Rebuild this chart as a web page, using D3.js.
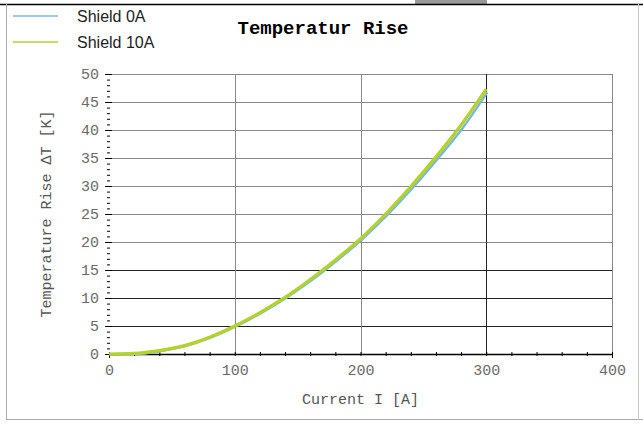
<!DOCTYPE html>
<meta charset="utf-8">
<style>
body { margin: 0; background: #fff; }
svg { display: block; }
.tick text { font-family: "Liberation Mono", "DejaVu Sans Mono", monospace; font-size: 15px; fill: #6a6a6a; }
.axis path, .axis line { stroke: #000; }
.grid line { stroke: #888; stroke-width: 1px; }
.grid .dark line { stroke: #222; }
.label { font-family: "Liberation Mono", monospace; font-size: 15px; fill: #555; }
.legend text { font-family: "Liberation Sans", Arial, sans-serif; font-size: 16px; fill: #222; }
</style>
<body>
<script src="https://cdn.jsdelivr.net/npm/d3@7"></script>
<script>

var width = 643,
    height = 426;

var current = [0, 20, 40, 60, 80, 100, 120, 140, 160, 180, 200, 220, 240, 260, 280, 300];
var shield0 = [0, 0.1, 0.6, 1.5, 3.0, 5.0, 7.4, 10.1, 13.2, 16.7, 20.5, 24.8, 29.6, 34.8, 40.3, 46.8];
var shield10 = [0, 0.1, 0.6, 1.5, 3.0, 5.0, 7.4, 10.1, 13.3, 16.8, 20.6, 25.0, 29.9, 35.2, 40.9, 47.3];
var seriesNames = ["Shield 0A", "Shield 10A"];
var seriesColors = ["#7ab8de", "#b4d22a"];
var xTicks = [0, 100, 200, 300, 400];
var yTicks = [0, 5, 10, 15, 20, 25, 30, 35, 40, 45, 50];

var margin = {left: 109, right: 31, top: 74, bottom: 72};

var x = d3.scaleLinear().domain([0, 400]).range([margin.left, width - margin.right]);
var y = d3.scaleLinear().domain([0, 50]).range([height - margin.bottom, margin.top]);

var svg = d3.select("body").append("svg")
    .attr("width", width)
    .attr("height", height);

// outer frame
svg.append("rect").attr("x", 415).attr("y", 0).attr("width", 72).attr("height", 4).attr("fill", "#999");
svg.append("line").attr("x1", 0).attr("x2", width).attr("y1", 4.5).attr("y2", 4.5).attr("stroke", "#000").attr("stroke-width", 1.5);
svg.append("line").attr("x1", 6.5).attr("x2", 6.5).attr("y1", 4).attr("y2", 420).attr("stroke", "#aaa");
svg.append("line").attr("x1", 6).attr("x2", width).attr("y1", 419.5).attr("y2", 419.5).attr("stroke", "#aaa");
svg.append("line").attr("x1", 638.5).attr("x2", 638.5).attr("y1", 4).attr("y2", 420).attr("stroke", "#ccc");

// grid
svg.append("g").attr("class", "grid")
  .selectAll("g").data(yTicks.slice(1)).join("g")
    .attr("class", function(d) { return d <= 15 ? "dark" : null; })
  .append("line")
    .attr("x1", x(0)).attr("x2", x(400))
    .attr("y1", function(d) { return Math.round(y(d)) + 0.5; })
    .attr("y2", function(d) { return Math.round(y(d)) + 0.5; });

svg.append("g").attr("class", "grid")
  .selectAll("g").data(xTicks.slice(1)).join("g")
    .attr("class", function(d) { return d == 300 ? "dark" : null; })
  .append("line")
    .attr("y1", y(0)).attr("y2", y(50))
    .attr("x1", function(d) { return Math.round(x(d)) + 0.5; })
    .attr("x2", function(d) { return Math.round(x(d)) + 0.5; });

// minor ticks
svg.append("g").attr("class", "axis")
    .attr("transform", "translate(0," + y(0) + ")")
    .call(d3.axisBottom(x).tickValues(d3.range(0, 401, 20)).tickSize(4).tickFormat(""))
    .call(function(g) { g.selectAll(".tick line").attr("transform", "translate(0,-2)"); });
svg.append("g").attr("class", "axis")
    .attr("transform", "translate(" + x(0) + ",0)")
    .call(d3.axisLeft(y).tickValues(d3.range(0, 51, 1)).tickSize(3).tickFormat(""))
    .call(function(g) { g.select(".domain").remove(); g.selectAll(".tick line").attr("transform", "translate(1,0)"); });

// major axes
svg.append("g").attr("class", "axis")
    .attr("transform", "translate(0," + y(0) + ")")
    .call(d3.axisBottom(x).tickValues(xTicks).tickSize(0).tickPadding(10))
    .call(function(g) { g.select(".domain").attr("stroke-width", 1.5); });
svg.append("g").attr("class", "axis")
    .attr("transform", "translate(" + x(0) + ",0)")
    .call(d3.axisLeft(y).tickValues(yTicks).tickSize(7).tickPadding(3))
    .call(function(g) {
      g.select(".domain").remove();
      g.selectAll(".tick line").attr("transform", "translate(3,0)");
    });

// curves
var line = d3.line()
    .x(function(d, i) { return x(current[i]); })
    .y(function(d) { return y(d); })
    .curve(d3.curveMonotoneX);

svg.append("path").datum(shield0)
    .attr("fill", "none").attr("stroke", seriesColors[0]).attr("stroke-width", 2.5)
    .attr("transform", "translate(1,0.5)")
    .attr("d", line);
svg.append("path").datum(shield10)
    .attr("fill", "none").attr("stroke", seriesColors[1]).attr("stroke-width", 3.2)
    .attr("d", line);

// title and labels
svg.append("text")
    .attr("x", 323).attr("y", 34)
    .attr("text-anchor", "middle")
    .style("font-family", "'Liberation Mono', monospace")
    .style("font-weight", "bold")
    .style("font-size", "19px")
    .text("Temperatur Rise");

svg.append("text").attr("class", "label")
    .attr("x", x(200)).attr("y", 404)
    .attr("text-anchor", "middle")
    .text("Current I [A]");

svg.append("text").attr("class", "label")
    .attr("transform", "translate(51," + y(25) + ") rotate(-90)")
    .attr("text-anchor", "middle")
    .text("Temperature Rise \u0394T [K]");

// legend
var legend = svg.append("g").attr("class", "legend")
  .selectAll("g").data(seriesNames).join("g")
    .attr("transform", function(d, i) { return "translate(0," + (16 + i * 26) + ")"; });
legend.append("line")
    .attr("x1", 13).attr("x2", 58)
    .attr("stroke", function(d, i) { return seriesColors[i]; })
    .attr("stroke-width", 1.5);
legend.append("text")
    .attr("x", 77).attr("dy", "0.35em")
    .text(function(d) { return d; });

</script>
